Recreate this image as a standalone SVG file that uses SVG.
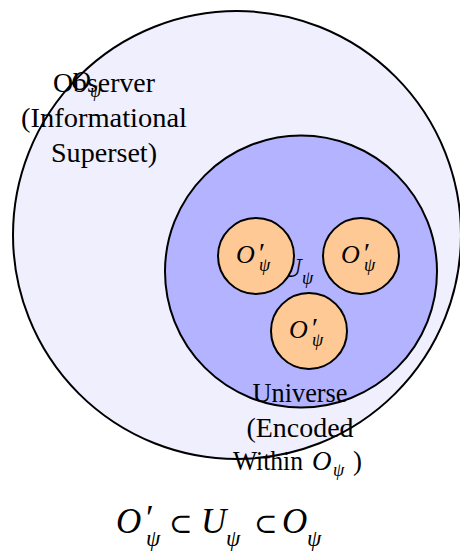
<svg xmlns="http://www.w3.org/2000/svg" width="460" height="558" viewBox="0 0 460 558">
<style>
.c{stroke:#000;stroke-width:2}
.t{font-family:"Liberation Serif","Times New Roman",serif;font-size:27px;fill:#000}
.m{font-family:"Liberation Serif","Times New Roman",serif;font-style:italic;fill:#000}
.p{font-style:normal}
.s{font-family:"DejaVu Serif",serif;font-style:normal}
</style>
<rect width="460" height="558" fill="#fff"/>
<g id="observer">
<circle class="c" cx="237" cy="235" r="224" fill="#efeffd"/>
<text class="m" font-size="27"><tspan x="71" y="90">O</tspan><tspan x="90" y="97" font-size="18">ψ</tspan></text>
<text class="t" text-anchor="middle"><tspan x="104" y="92" textLength="102" lengthAdjust="spacingAndGlyphs">Observer</tspan><tspan x="104" y="127" textLength="166" lengthAdjust="spacingAndGlyphs">(Informational</tspan><tspan x="104" y="162" textLength="106" lengthAdjust="spacingAndGlyphs">Superset)</tspan></text>
</g>
<g id="universe">
<circle class="c" cx="301" cy="271.5" r="136" fill="#b3b3ff"/>
<text class="m" font-size="27"><tspan x="282" y="277">U</tspan><tspan x="302" y="284" font-size="18">ψ</tspan></text>
</g>
<g id="obs1">
<circle class="c" cx="256" cy="256" r="38" fill="#ffc996"/>
<text class="m" font-size="26"><tspan x="236" y="263">O</tspan><tspan x="259" y="262" class="p" font-size="28">′</tspan><tspan x="259" y="271" font-size="18">ψ</tspan></text>
</g>
<g id="obs2">
<circle class="c" cx="361" cy="256" r="38" fill="#ffc996"/>
<text class="m" font-size="26"><tspan x="341" y="263">O</tspan><tspan x="364" y="262" class="p" font-size="28">′</tspan><tspan x="364" y="271" font-size="18">ψ</tspan></text>
</g>
<g id="obs3">
<circle class="c" cx="309" cy="331" r="38" fill="#ffc996"/>
<text class="m" font-size="26"><tspan x="289" y="338">O</tspan><tspan x="312" y="337" class="p" font-size="28">′</tspan><tspan x="312" y="346" font-size="18">ψ</tspan></text>
</g>
<g id="universe-label">
<text class="t" text-anchor="middle"><tspan x="300" y="402" textLength="95" lengthAdjust="spacingAndGlyphs">Universe</tspan><tspan x="300" y="437" textLength="107" lengthAdjust="spacingAndGlyphs">(Encoded</tspan></text>
<text class="t"><tspan x="233" y="470" textLength="70" lengthAdjust="spacingAndGlyphs">Within</tspan><tspan x="312" y="470" class="m">O</tspan><tspan x="333" y="476" class="m" font-size="18">ψ</tspan><tspan x="353" y="470">)</tspan></text>
</g>
<g id="formula">
<text class="m" font-size="35"><tspan x="116" y="533">O</tspan><tspan x="146" y="530" class="p" font-size="36">′</tspan><tspan x="146" y="546" font-size="23">ψ</tspan><tspan x="169" y="533" class="s" font-size="28">⊂</tspan><tspan x="201" y="533">U</tspan><tspan x="226" y="546" font-size="23">ψ</tspan><tspan x="254" y="533" class="s" font-size="28">⊂</tspan><tspan x="282" y="533">O</tspan><tspan x="307" y="546" font-size="23">ψ</tspan></text>
</g>
<g id="connectors"></g>
</svg>
